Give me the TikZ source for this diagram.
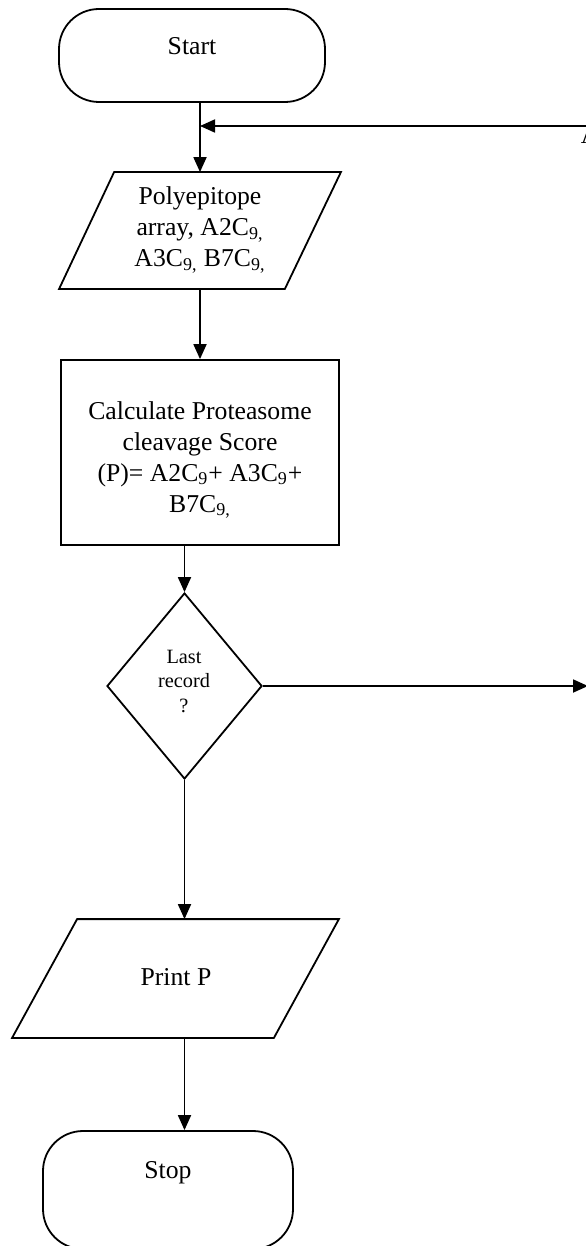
\documentclass[tikz,border=0pt]{standalone}
\usepackage{fontspec}
\setmainfont{Liberation Serif}
\usetikzlibrary{arrows.meta,shapes.geometric}
\begin{document}
\begin{tikzpicture}[x=0.5pt,y=-0.5pt,line width=0.9pt,
  arr/.style={-{Triangle[length=7.5pt,width=6.5pt]}},
  txt/.style={font=\fontsize{12.85}{15.5}\selectfont,align=center,inner sep=0pt},
  smalltxt/.style={font=\fontsize{10.15}{12.25}\selectfont,align=center,inner sep=0pt},
  term/.style={draw,rounded corners=20pt,inner sep=0pt},
  procbox/.style={draw,rectangle,inner sep=0pt},
  iobox/.style={rectangle,inner sep=0pt},
  decbox/.style={draw,diamond,inner sep=0pt}]
\useasboundingbox (0,0) rectangle (585,1246);
% Start
\node[term,minimum width=133pt,minimum height=46.5pt] (start) at (192,55.5) {};
\node[txt] (startT) at (192,46.5) {Start};
% Polyepitope input
\node[iobox,minimum width=140pt,minimum height=57.5pt] (poly) at (200,230.5) {};
\draw ([xshift=27.5pt]poly.north west) -- (poly.north east) -- ([xshift=-28pt]poly.south east) -- (poly.south west) -- cycle;
\node[txt] (polyT) at (200,230) {Polyepitope\\array, A2C\textsubscript{9,}\\A3C\textsubscript{9,} B7C\textsubscript{9,}};
% Calculate
\node[procbox,minimum width=139pt,minimum height=92.5pt] (calc) at (200,452.5) {};
\node[txt] (calcT) at (200,460) {Calculate Proteasome\\cleavage Score\\(P)= A2C\textsubscript{9}+ A3C\textsubscript{9}+\\B7C\textsubscript{9,}};
% Decision
\node[decbox,minimum width=77.5pt,minimum height=93pt] (dec) at (184.5,686) {};
\node[smalltxt] (decT) at (184,681) {Last\\record\\?};
% Print P
\node[iobox,minimum width=162.5pt,minimum height=58.5pt] (pp) at (175.5,978.5) {};
\draw ([xshift=32.5pt]pp.north west) -- (pp.north east) -- ([xshift=-32.5pt]pp.south east) -- (pp.south west) -- cycle;
\node[txt] (ppT) at (176,977) {Print P};
% Stop
\node[term,minimum width=125pt,minimum height=59pt] (stop) at (168,1190) {};
\node[txt] (stopT) at (168,1173) {Stop};
% off-page connector
\coordinate (junc) at (200,126);
\coordinate (offIn) at (590,126);
\coordinate (offOut) at (588,686);
\node[txt,anchor=base west] (offA) at (580,144) {A};
% connectors
\draw[arr] (poly.north |- start.south) -- (poly.north);
\draw[arr] (offIn) -- (junc);
\draw[arr] (poly.south) -- (calc.north);
\draw[arr] (dec.north |- calc.south) -- (dec.north);
\draw[arr] (dec.east) -- (offOut);
\draw[arr] (dec.south) -- (dec.south |- pp.north);
\draw[arr] (dec.south |- pp.south) -- (dec.south |- stop.north);
\end{tikzpicture}
\end{document}
